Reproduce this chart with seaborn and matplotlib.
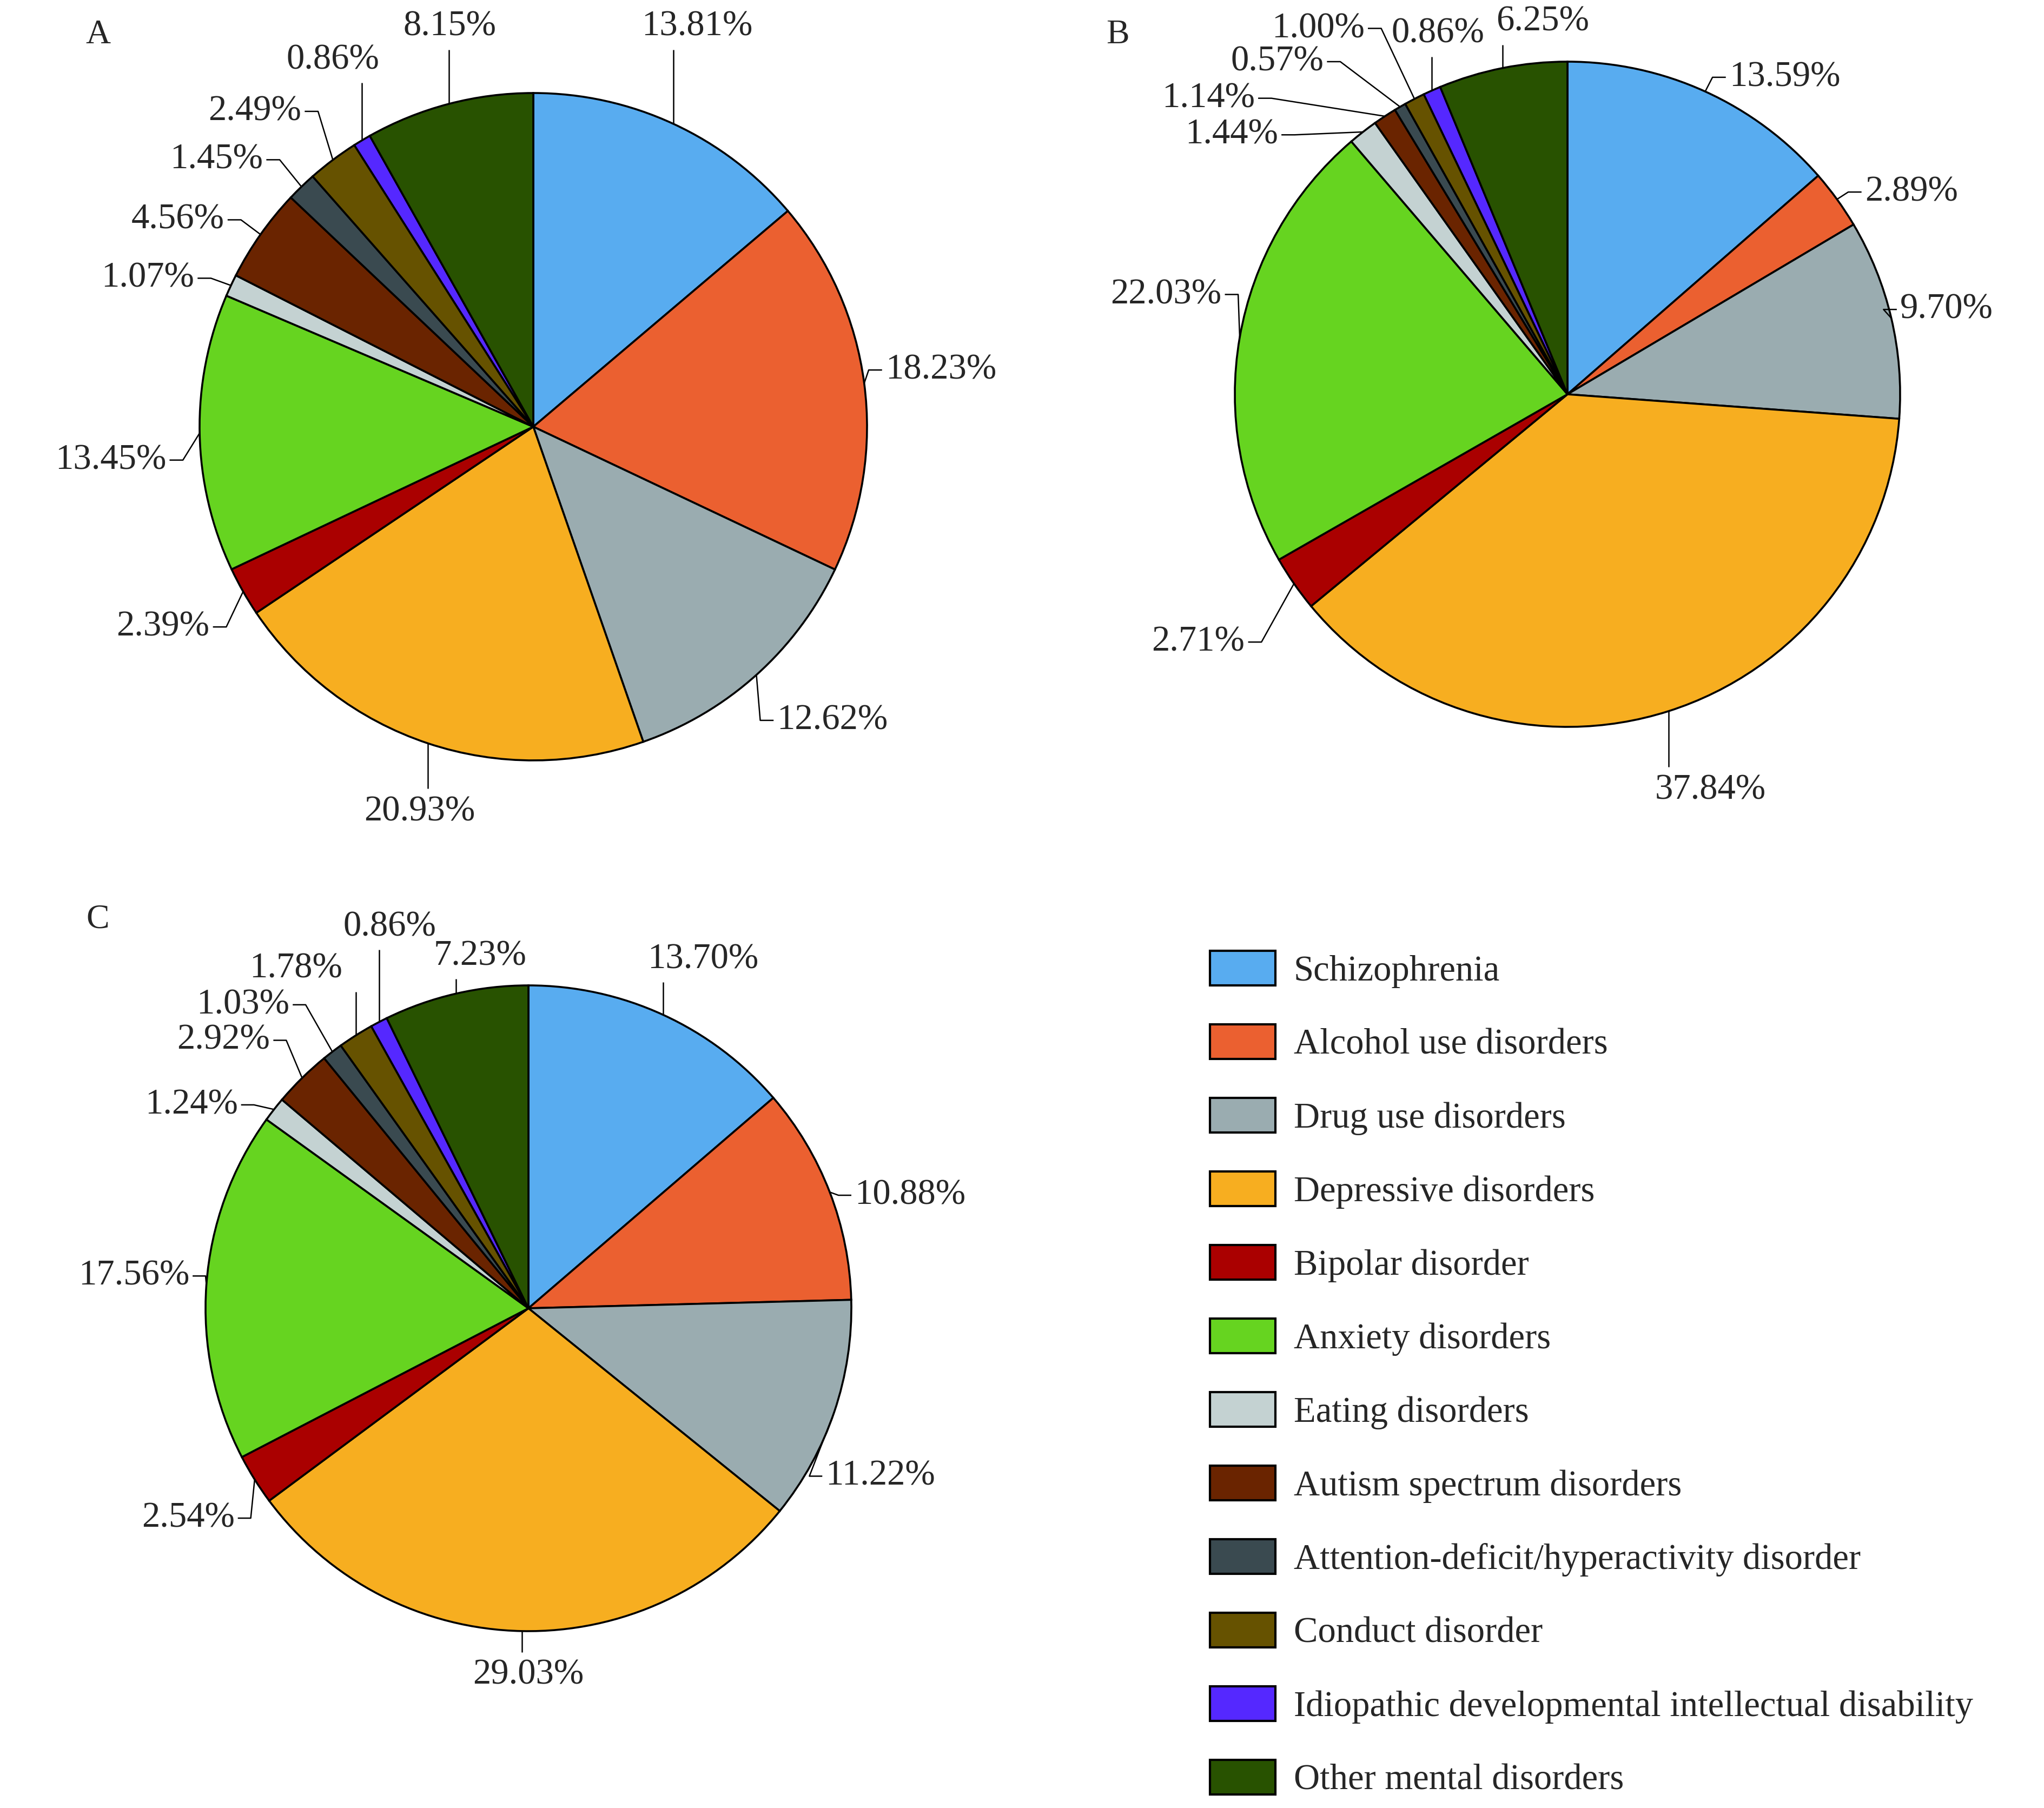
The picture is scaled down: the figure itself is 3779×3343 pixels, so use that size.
import matplotlib
matplotlib.use('Agg')
import matplotlib.pyplot as plt
from matplotlib.patches import Patch
import numpy as np
import seaborn as sns

# Disorder categories and their colours
categories = ['Schizophrenia', 'Alcohol use disorders', 'Drug use disorders',
              'Depressive disorders', 'Bipolar disorder', 'Anxiety disorders',
              'Eating disorders', 'Autism spectrum disorders',
              'Attention-deficit/hyperactivity disorder', 'Conduct disorder',
              'Idiopathic developmental intellectual disability',
              'Other mental disorders']
colors_hex = ['#58acf0', '#eb6030', '#9aacb0', '#f7ae20', '#aa0000', '#66d420',
              '#c4d2d2', '#6a2400', '#3a4a50', '#665200', '#5528ff', '#285200']

# Percent shares for panels A, B and C
share_a = [13.81, 18.23, 12.62, 20.93, 2.39, 13.45, 1.07, 4.56, 1.45, 2.49, 0.86, 8.15]
share_b = [13.59, 2.89, 9.70, 37.84, 2.71, 22.03, 1.44, 1.14, 0.57, 1.00, 0.86, 6.25]
share_c = [13.70, 10.88, 11.22, 29.03, 2.54, 17.56, 1.24, 2.92, 1.03, 1.78, 0.86, 7.23]

sns.set_style('white')
plt.rcParams['font.family'] = ['Liberation Serif', 'DejaVu Serif']

palette = sns.color_palette(colors_hex)

W, H = 3780, 3343
fig = plt.figure(figsize=(W / 100, H / 100), dpi=100)

FS = 48
LIM = 1.35

# label placement in pie-radius units: (x, y, side)
# side: 'l' text right of leader, 'r' text left of leader, 'u' above, 'd' below
layout_a = [(0.49, 1.15, 'u'), (1.055, 0.17, 'l'), (0.73, -0.88, 'l'),
            (-0.34, -1.105, 'd'), (-0.97, -0.60, 'r'), (-1.10, -0.10, 'r'),
            (-1.016, 0.445, 'r'), (-0.926, 0.62, 'r'), (-0.81, 0.80, 'r'),
            (-0.695, 0.945, 'r'), (-0.60, 1.05, 'u'), (-0.25, 1.15, 'u')]
layout_b = [(0.486, 0.953, 'l'), (0.894, 0.608, 'l'), (1.0, 0.255, 'l'),
            (0.43, -1.14, 'd'), (-0.97, -0.745, 'r'), (-1.04, 0.30, 'r'),
            (-0.87, 0.78, 'r'), (-0.94, 0.89, 'r'), (-0.733, 1.0, 'r'),
            (-0.61, 1.10, 'r'), (-0.39, 1.035, 'u'), (-0.075, 1.07, 'u')]
layout_c = [(0.54, 1.03, 'u'), (1.01, 0.35, 'l'), (0.92, -0.52, 'l'),
            (0.0, -1.085, 'd'), (-0.91, -0.65, 'r'), (-1.05, 0.10, 'r'),
            (-0.90, 0.63, 'r'), (-0.80, 0.83, 'r'), (-0.74, 0.94, 'r'),
            (-0.72, 1.0, 'u'), (-0.43, 1.13, 'u'), (-0.15, 1.04, 'u')]


def pie_axes(cx, cy, r):
    side = 2 * LIM * r
    return fig.add_axes([(cx - side / 2) / W, 1 - (cy + side / 2) / H, side / W, side / H])


def draw_pie(ax, values, layout):
    wedges, _ = ax.pie(values, colors=palette, startangle=90, counterclock=False,
                       wedgeprops=dict(edgecolor='black', linewidth=2.6))
    ax.set_xlim(-LIM, LIM)
    ax.set_ylim(-LIM, LIM)
    ax.set_aspect('equal')
    ax.axis('off')
    lk = dict(color='black', lw=1.8, solid_capstyle='butt')
    for w, v, (tx, ty, side) in zip(wedges, values, layout):
        ang = np.deg2rad((w.theta1 + w.theta2) / 2)
        ex, ey = np.cos(ang), np.sin(ang)
        txt = f'{v:.2f}%'
        if side == 'l':
            ax.plot([ex, tx - 0.05, tx - 0.01], [ey, ty, ty], **lk)
            ax.text(tx, ty, txt, ha='left', va='center', fontsize=FS)
        elif side == 'r':
            ax.plot([ex, tx + 0.05, tx + 0.01], [ey, ty, ty], **lk)
            ax.text(tx, ty, txt, ha='right', va='center', fontsize=FS)
        elif side == 'u':
            ax.plot([ex, ex], [ey, ty - 0.02], **lk)
            ax.text(tx, ty, txt, ha='center', va='bottom', fontsize=FS)
        else:
            ax.plot([ex, ex], [ey, ty + 0.02], **lk)
            ax.text(tx, ty, txt, ha='center', va='top', fontsize=FS)


draw_pie(pie_axes(986, 789, 617), share_a, layout_a)
draw_pie(pie_axes(2898, 729, 615), share_b, layout_b)
draw_pie(pie_axes(977, 2419, 597), share_c, layout_c)

for letter, (x, y) in zip('ABC', [(181, 65), (2066, 65), (181, 1700)]):
    fig.text(x / W, 1 - y / H, letter, ha='center', va='center', fontsize=46)

handles = [Patch(facecolor=c, edgecolor='black', linewidth=3) for c in palette]
fig.legend(handles, categories, loc='upper left',
           bbox_to_anchor=(2237 / W, 1 - 1758 / H), frameon=False,
           fontsize=FS, handlelength=1.82, handleheight=1.1, handletextpad=0.5,
           labelspacing=1.01, borderpad=0, borderaxespad=0)

fig.savefig('out.png', dpi=100, facecolor='white')
